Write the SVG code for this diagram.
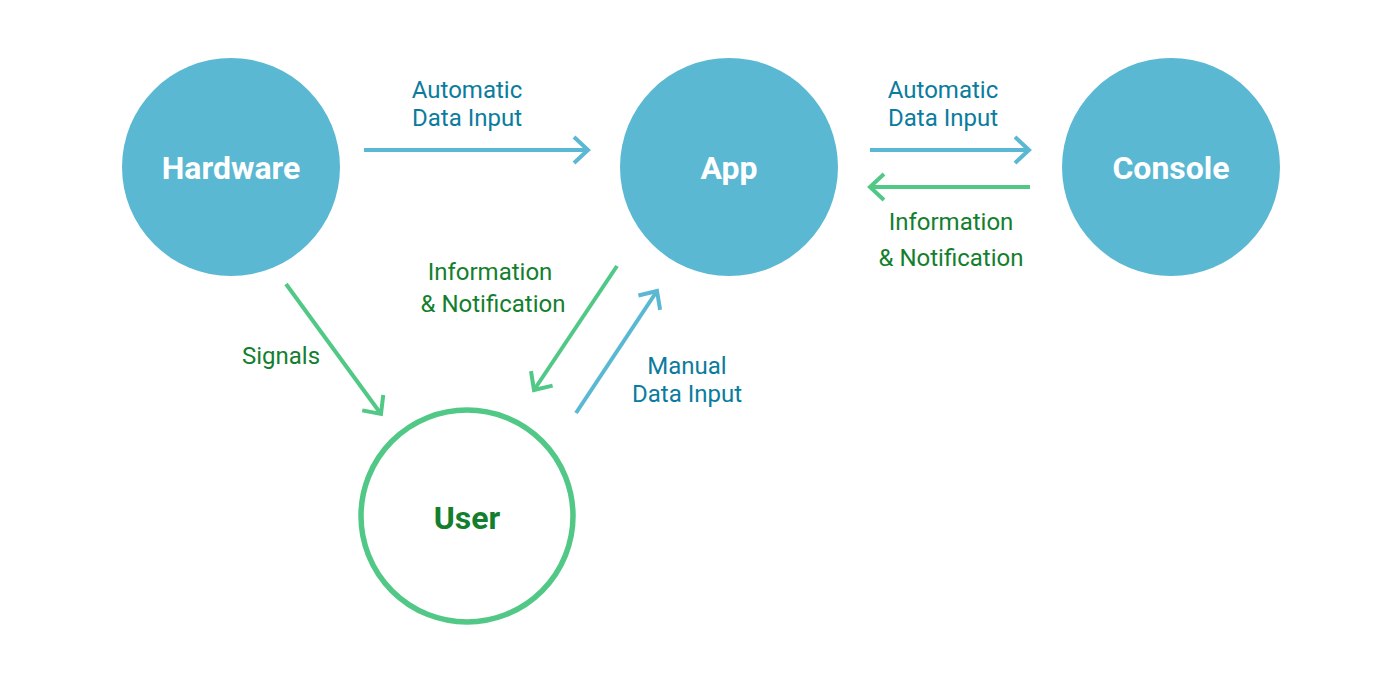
<svg xmlns="http://www.w3.org/2000/svg" width="1400" height="678" viewBox="0 0 1400 678">
<defs>
<style>
.node{fill:#5BB8D3}
.user{fill:#fff;stroke:#52C887;stroke-width:5.5}
.nl{font-family:Roboto,"Liberation Sans",sans-serif;font-weight:bold;font-size:32px;text-anchor:middle;fill:#fff}
.ul{fill:#137F2E}
.b{stroke:#5BB8D3;stroke-width:4;fill:none}
.g{stroke:#52C887;stroke-width:4;fill:none}
.lb{font-family:Roboto,"Liberation Sans",sans-serif;font-size:24px;text-anchor:middle;fill:#0B7C9E}
.lg{font-family:Roboto,"Liberation Sans",sans-serif;font-size:24px;text-anchor:middle;fill:#137F2E}
</style>
<marker id="ab" markerUnits="userSpaceOnUse" markerWidth="40" markerHeight="40" refX="0" refY="0" viewBox="-20 -20 40 40" orient="auto" overflow="visible">
<path d="M-14,-13 L0,0 L-14,13" fill="none" stroke="#5BB8D3" stroke-width="4"/>
</marker>
<marker id="ag" markerUnits="userSpaceOnUse" markerWidth="40" markerHeight="40" refX="0" refY="0" viewBox="-20 -20 40 40" orient="auto" overflow="visible">
<path d="M-14,-13 L0,0 L-14,13" fill="none" stroke="#52C887" stroke-width="4"/>
</marker>
</defs>
<rect width="1400" height="678" fill="#fff"/>
<g id="connectors">
<line class="b" x1="364" y1="150" x2="588" y2="150" marker-end="url(#ab)"/>
<line class="b" x1="870" y1="150" x2="1029" y2="150" marker-end="url(#ab)"/>
<line class="g" x1="1030" y1="187" x2="870" y2="187" marker-end="url(#ag)"/>
<line class="g" x1="286" y1="284" x2="381" y2="414" marker-end="url(#ag)"/>
<line class="g" x1="617" y1="266" x2="534" y2="390" marker-end="url(#ag)"/>
<line class="b" x1="576" y1="413" x2="657" y2="291" marker-end="url(#ab)"/>
<text class="lb" x="467" y="98">Automatic</text>
<text class="lb" x="467" y="126">Data Input</text>
<text class="lb" x="943" y="98">Automatic</text>
<text class="lb" x="943" y="126">Data Input</text>
<text class="lg" x="951" y="230">Information</text>
<text class="lg" x="951" y="266">&amp; Notification</text>
<text class="lg" x="490" y="280">Information</text>
<text class="lg" x="493" y="312">&amp; Notification</text>
<text class="lg" x="281" y="364">Signals</text>
<text class="lb" x="687" y="374">Manual</text>
<text class="lb" x="687" y="402">Data Input</text>
</g>
<g id="hardware">
<circle class="node" cx="231" cy="167" r="109"/>
<text class="nl" x="231" y="179">Hardware</text>
</g>
<g id="app">
<circle class="node" cx="729" cy="167" r="109"/>
<text class="nl" x="729" y="179">App</text>
</g>
<g id="console">
<circle class="node" cx="1171" cy="167" r="109"/>
<text class="nl" x="1171" y="179">Console</text>
</g>
<g id="user">
<circle class="user" cx="467" cy="516" r="106"/>
<text class="nl ul" x="467" y="529">User</text>
</g>
</svg>
